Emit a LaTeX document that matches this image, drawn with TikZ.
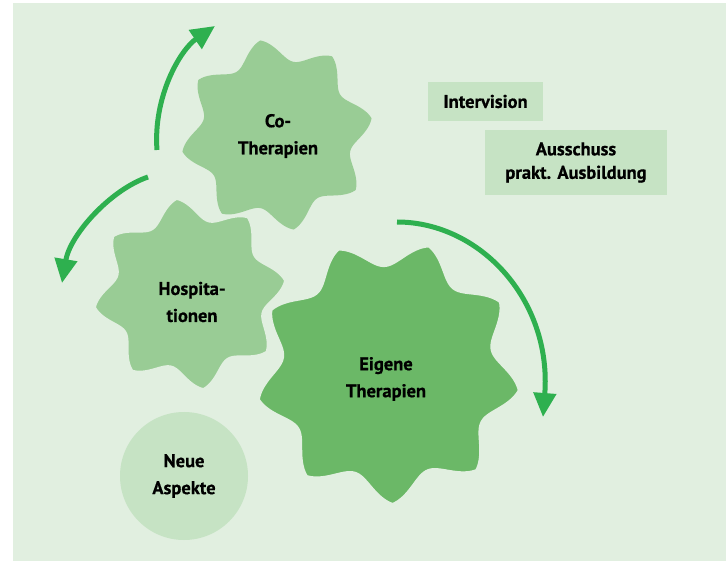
\documentclass[tikz,border=0pt]{standalone}
\usepackage{fontspec}
\setmainfont{PT Sans}[BoldFeatures={FakeBold=0.6}]
\usetikzlibrary{arrows.meta}

\definecolor{panel}{HTML}{E1EFE0}
\definecolor{gearlight}{HTML}{99CC95}
\definecolor{geardark}{HTML}{6BB867}
\definecolor{boxfill}{HTML}{C6E3C4}
\definecolor{flowgreen}{HTML}{2EB04F}

\begin{document}
\begin{tikzpicture}[x=1pt,y=-1pt,
  % radius of a gear outline: tips at p, valleys at q, b teeth, phase c
  declare function={
    gs(\a,\b,\c)=abs(sin(0.5*\b*(\a-\c)));
    gr(\a,\p,\q,\b,\c)=\q+(\p-\q)*(1-0.42*gs(\a,\b,\c)-0.58*gs(\a,\b,\c)^2);
  },
  lbl/.style={font=\fontsize{18.5}{27}\selectfont\bfseries, align=center, text=black, inner sep=0pt},
  tag/.style={lbl, fill=boxfill, minimum width=#1},
  flow/.style={draw=flowgreen, line width=5pt, -{Triangle[width=22pt,length=24pt]}},
  sep/.style={draw=panel, line width=2pt}
]
\useasboundingbox (0,0) rectangle (726,561);
\fill[panel] (13,3) rectangle (726,561);

% Co-Therapien gear
\path[fill=gearlight] plot[domain=0:360,samples=361,variable=\t]
  ({277+gr(\t,96,75,8,10)*cos(\t)},{135-gr(\t,96,75,8,10)*sin(\t)}) -- cycle;

% Hospitationen gear
\path[fill=gearlight,sep] plot[domain=0:360,samples=361,variable=\t]
  ({190+gr(\t,96,75,8,8)*cos(\t)},{294-gr(\t,96,75,8,8)*sin(\t)}) -- cycle;

% Eigene Therapien gear, trimmed left and right
\begin{scope}
  \clip (260,0) rectangle (522,561);
  \path[fill=geardark,sep] plot[domain=0:360,samples=361,variable=\t]
    ({388+gr(\t,132,106,9,32)*cos(\t)},{372-gr(\t,132,106,9,32)*sin(\t)}) -- cycle;
\end{scope}

% labels
\node[lbl] (co) at (278,136) {Co-\\Therapien};
\node[lbl] (hosp) at (192,302) {Hospita-\\tionen};
\node[lbl] (eigen) at (386,379) {Eigene\\Therapien};

\node[lbl, circle, fill=boxfill, minimum size=128pt] (neue) at (184,476) {Neue\\Aspekte};

\node[tag=115pt, minimum height=39pt] (interv) at (485.5,101.5) {Intervision};
\node[tag=182pt, minimum height=65pt, font=\fontsize{18.5}{23.5}\selectfont\bfseries] (aus) at (576,162.5) {Ausschuss\\prakt. Ausbildung};

% rotation arrows
\coordinate (a1s) at (157,150);
\coordinate (a1e) at (215,26);
\coordinate (a2s) at (148,177);
\coordinate (a2e) at (62,283);
\coordinate (a3s) at (397,222);
\coordinate (a3e) at (543,417);
\draw[flow] (a1s) .. controls (153,97) and (180,50) .. (a1e);
\draw[flow] (a2s) .. controls (110,190) and (70,235) .. (a2e);
\draw[flow] (a3s) .. controls (480,222) and (552,300) .. (a3e);
\end{tikzpicture}
\end{document}
